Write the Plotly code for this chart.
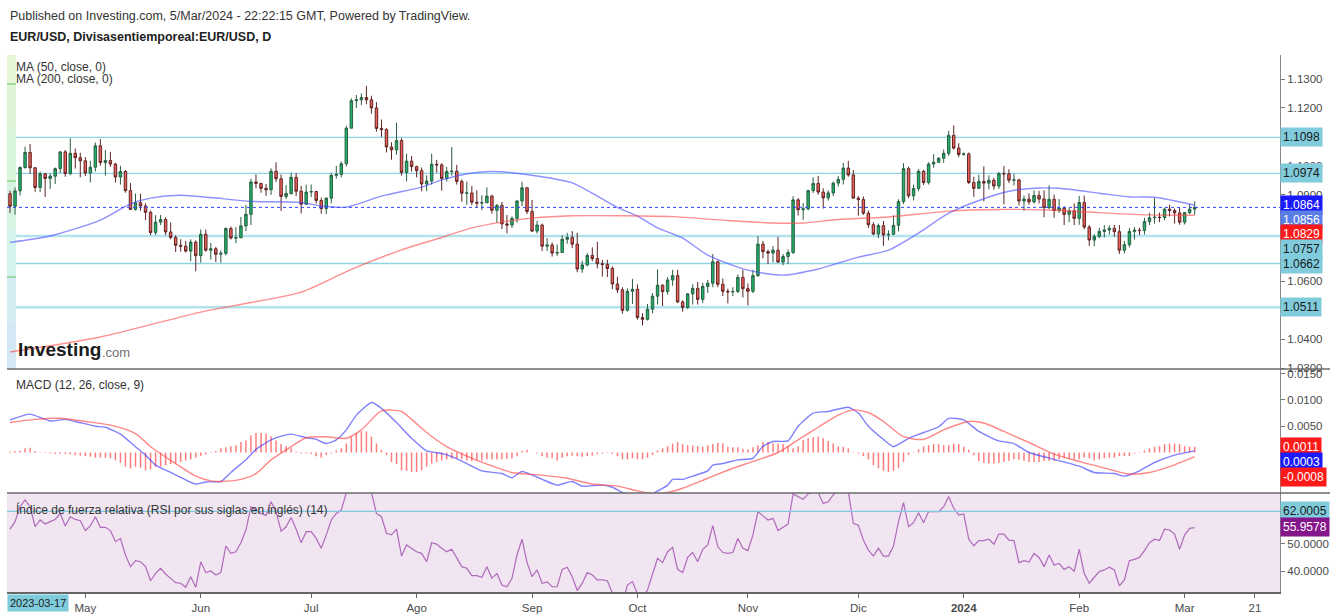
import pandas as pd
import plotly.graph_objects as go

# ---------------- data ----------------
dates = pd.bdate_range("2023-04-10", "2024-03-05")

opens = [
1.0903, 1.0860, 1.0913, 1.0994, 1.1046, 1.0993, 1.0925, 1.0972, 1.0956, 1.0964,
1.0990, 1.1048, 1.0973, 1.1043, 1.1028, 1.1017, 1.0975, 1.0995, 1.1069, 1.1011,
1.1018, 1.1006, 1.0961, 1.0980, 1.0914, 1.0849, 1.0872, 1.0861, 1.0839, 1.0769,
1.0805, 1.0814, 1.0771, 1.0752, 1.0725, 1.0722, 1.0705, 1.0736, 1.0689, 1.0763,
1.0708, 1.0713, 1.0694, 1.0697, 1.0783, 1.0750, 1.0751, 1.0792, 1.0832, 1.0944,
1.0939, 1.0922, 1.0917, 1.0981, 1.0955, 1.0894, 1.0904, 1.0960, 1.0912, 1.0867,
1.0909, 1.0911, 1.0880, 1.0852, 1.0888, 1.0967, 1.0970, 1.1007, 1.1130, 1.1225,
1.1228, 1.1236, 1.1228, 1.1200, 1.1129, 1.1125, 1.1065, 1.1055, 1.1087, 1.0977,
1.1016, 1.0997, 1.0983, 1.0937, 1.0947, 1.1005, 1.1003, 1.0956, 1.0980, 1.0981,
1.0946, 1.0905, 1.0906, 1.0874, 1.0871, 1.0872, 1.0895, 1.0846, 1.0863, 1.0799,
1.0795, 1.0818, 1.0878, 1.0924, 1.0842, 1.0774, 1.0795, 1.0722, 1.0726, 1.0698,
1.0700, 1.0746, 1.0752, 1.0729, 1.0643, 1.0657, 1.0690, 1.0679, 1.0661, 1.0659,
1.0645, 1.0591, 1.0571, 1.0500, 1.0566, 1.0573, 1.0475, 1.0469, 1.0504, 1.0549,
1.0587, 1.0565, 1.0605, 1.0620, 1.0529, 1.0510, 1.0557, 1.0576, 1.0538, 1.0583,
1.0594, 1.0668, 1.0590, 1.0566, 1.0564, 1.0565, 1.0614, 1.0575, 1.0566, 1.0620,
1.0729, 1.0703, 1.0698, 1.0708, 1.0667, 1.0686, 1.0700, 1.0882, 1.0848, 1.0851,
1.0914, 1.0939, 1.0909, 1.0889, 1.0906, 1.0940, 1.0953, 1.0992, 1.0968, 1.0888,
1.0883, 1.0836, 1.0796, 1.0764, 1.0793, 1.0761, 1.0763, 1.0794, 1.0876, 1.0990,
1.0896, 1.0921, 1.0981, 1.0942, 1.1006, 1.1012, 1.1026, 1.1043, 1.1105, 1.1061,
1.1039, 1.1041, 1.0942, 1.0922, 1.0946, 1.0940, 1.0950, 1.0930, 1.0973, 1.0972,
1.0950, 1.0951, 1.0878, 1.0885, 1.0875, 1.0897, 1.0885, 1.0855, 1.0884, 1.0845,
1.0854, 1.0832, 1.0844, 1.0818, 1.0873, 1.0788, 1.0743, 1.0755, 1.0773, 1.0778,
1.0784, 1.0772, 1.0708, 1.0727, 1.0773, 1.0777, 1.0776, 1.0807, 1.0820, 1.0822,
1.0821, 1.0850, 1.0845, 1.0837, 1.0805, 1.0838, 1.0850]

highs = [
1.0914, 1.0925, 1.0998, 1.1066, 1.1075, 1.0995, 1.0980, 1.0975, 1.0973, 1.0994,
1.1050, 1.1054, 1.1095, 1.1060, 1.1045, 1.1030, 1.1017, 1.1080, 1.1092, 1.1055,
1.1048, 1.1010, 1.1000, 1.0985, 1.0940, 1.0904, 1.0903, 1.0870, 1.0845, 1.0829,
1.0830, 1.0822, 1.0804, 1.0760, 1.0746, 1.0740, 1.0746, 1.0742, 1.0780, 1.0779,
1.0733, 1.0719, 1.0707, 1.0787, 1.0790, 1.0788, 1.0823, 1.0865, 1.0955, 1.0970,
1.0940, 1.0937, 1.0991, 1.1012, 1.0970, 1.0933, 1.0976, 1.0975, 1.0930, 1.0935,
1.0935, 1.0913, 1.0890, 1.0890, 1.0975, 1.1000, 1.1015, 1.1138, 1.1233, 1.1245,
1.1250, 1.1276, 1.1242, 1.1220, 1.1160, 1.1130, 1.1081, 1.1149, 1.1095, 1.1042,
1.1034, 1.1000, 1.0994, 1.0967, 1.1042, 1.1020, 1.1009, 1.0996, 1.1065, 1.1003,
1.0953, 1.0945, 1.0930, 1.0915, 1.0898, 1.0925, 1.0900, 1.0868, 1.0875, 1.0830,
1.0825, 1.0882, 1.0945, 1.0925, 1.0882, 1.0810, 1.0800, 1.0750, 1.0735, 1.0728,
1.0760, 1.0768, 1.0774, 1.0768, 1.0671, 1.0698, 1.0718, 1.0737, 1.0674, 1.0675,
1.0652, 1.0616, 1.0580, 1.0576, 1.0609, 1.0590, 1.0490, 1.0522, 1.0560, 1.0642,
1.0590, 1.0615, 1.0640, 1.0640, 1.0535, 1.0560, 1.0590, 1.0598, 1.0595, 1.0605,
1.0695, 1.0673, 1.0610, 1.0575, 1.0580, 1.0624, 1.0640, 1.0593, 1.0640, 1.0757,
1.0740, 1.0710, 1.0723, 1.0755, 1.0695, 1.0710, 1.0895, 1.0888, 1.0871, 1.0917,
1.0960, 1.0965, 1.0922, 1.0915, 1.0945, 1.0965, 1.1010, 1.1017, 1.0985, 1.0895,
1.0894, 1.0845, 1.0805, 1.0800, 1.0809, 1.0777, 1.0828, 1.0884, 1.1009, 1.0997,
1.0935, 1.0988, 1.0986, 1.1012, 1.1040, 1.1030, 1.1056, 1.1121, 1.1139, 1.1078,
1.1046, 1.1046, 1.0962, 1.0969, 1.0998, 1.0967, 1.0958, 1.0978, 1.0999, 1.0988,
1.0972, 1.0955, 1.0897, 1.0905, 1.0915, 1.0913, 1.0915, 1.0932, 1.0900, 1.0885,
1.0860, 1.0855, 1.0870, 1.0896, 1.0897, 1.0795, 1.0764, 1.0785, 1.0795, 1.0794,
1.0795, 1.0795, 1.0740, 1.0785, 1.0788, 1.0786, 1.0820, 1.0838, 1.0888, 1.0838,
1.0855, 1.0865, 1.0852, 1.0855, 1.0840, 1.0868, 1.0877]

lows = [
1.0837, 1.0831, 1.0897, 1.0990, 1.0972, 1.0910, 1.0909, 1.0892, 1.0920, 1.0937,
1.0975, 1.0962, 1.0967, 1.0990, 1.0960, 1.0965, 1.0942, 1.0980, 1.1000, 1.0966,
1.0996, 1.0942, 1.0935, 1.0907, 1.0847, 1.0845, 1.0844, 1.0812, 1.0760, 1.0760,
1.0795, 1.0760, 1.0746, 1.0702, 1.0703, 1.0700, 1.0670, 1.0635, 1.0665, 1.0703,
1.0675, 1.0667, 1.0665, 1.0690, 1.0745, 1.0732, 1.0750, 1.0774, 1.0795, 1.0922,
1.0907, 1.0896, 1.0899, 1.0943, 1.0844, 1.0885, 1.0900, 1.0895, 1.0835, 1.0864,
1.0892, 1.0869, 1.0834, 1.0833, 1.0870, 1.0956, 1.0960, 1.0998, 1.1130, 1.1200,
1.1210, 1.1213, 1.1180, 1.1118, 1.1100, 1.1046, 1.1021, 1.1038, 1.0966, 1.0946,
1.0980, 1.0960, 1.0912, 1.0912, 1.0935, 1.0976, 1.0914, 1.0945, 1.0966, 1.0935,
1.0876, 1.0865, 1.0864, 1.0855, 1.0846, 1.0871, 1.0834, 1.0803, 1.0781, 1.0766,
1.0785, 1.0803, 1.0860, 1.0833, 1.0771, 1.0765, 1.0705, 1.0705, 1.0686, 1.0688,
1.0700, 1.0730, 1.0715, 1.0632, 1.0630, 1.0652, 1.0670, 1.0645, 1.0617, 1.0615,
1.0573, 1.0560, 1.0488, 1.0496, 1.0522, 1.0468, 1.0448, 1.0465, 1.0490, 1.0520,
1.0515, 1.0555, 1.0585, 1.0525, 1.0495, 1.0505, 1.0520, 1.0520, 1.0525, 1.0560,
1.0580, 1.0580, 1.0550, 1.0524, 1.0550, 1.0560, 1.0545, 1.0517, 1.0560, 1.0616,
1.0680, 1.0660, 1.0666, 1.0664, 1.0656, 1.0660, 1.0695, 1.0828, 1.0813, 1.0846,
1.0906, 1.0900, 1.0852, 1.0880, 1.0895, 1.0928, 1.0935, 1.0962, 1.0888, 1.0827,
1.0830, 1.0785, 1.0760, 1.0750, 1.0723, 1.0742, 1.0760, 1.0773, 1.0868, 1.0888,
1.0880, 1.0912, 1.0933, 1.0935, 1.0993, 1.1010, 1.1010, 1.1034, 1.1056, 1.1030,
1.1035, 1.0937, 1.0892, 1.0920, 1.0877, 1.0918, 1.0917, 1.0920, 1.0867, 1.0940,
1.0932, 1.0863, 1.0844, 1.0865, 1.0870, 1.0870, 1.0822, 1.0850, 1.0820, 1.0837,
1.0795, 1.0805, 1.0795, 1.0796, 1.0780, 1.0723, 1.0722, 1.0750, 1.0752, 1.0762,
1.0755, 1.0695, 1.0697, 1.0718, 1.0745, 1.0760, 1.0762, 1.0795, 1.0800, 1.0805,
1.0812, 1.0825, 1.0800, 1.0796, 1.0797, 1.0832, 1.0830]

closes = [
1.0860, 1.0913, 1.0994, 1.1046, 1.0993, 1.0925, 1.0972, 1.0956, 1.0964, 1.0990,
1.1048, 1.0973, 1.1043, 1.1028, 1.1017, 1.0975, 1.0995, 1.1069, 1.1011, 1.1018,
1.1006, 1.0961, 1.0980, 1.0914, 1.0849, 1.0872, 1.0861, 1.0839, 1.0769, 1.0805,
1.0814, 1.0771, 1.0752, 1.0725, 1.0722, 1.0705, 1.0736, 1.0689, 1.0763, 1.0708,
1.0713, 1.0694, 1.0697, 1.0783, 1.0750, 1.0751, 1.0792, 1.0832, 1.0944, 1.0939,
1.0922, 1.0917, 1.0981, 1.0955, 1.0894, 1.0904, 1.0960, 1.0912, 1.0867, 1.0909,
1.0911, 1.0880, 1.0852, 1.0888, 1.0967, 1.0970, 1.1007, 1.1130, 1.1225, 1.1228,
1.1236, 1.1228, 1.1200, 1.1129, 1.1125, 1.1065, 1.1055, 1.1087, 1.0977, 1.1016,
1.0997, 1.0983, 1.0937, 1.0947, 1.1005, 1.1003, 1.0956, 1.0980, 1.0981, 1.0946,
1.0905, 1.0906, 1.0874, 1.0871, 1.0872, 1.0895, 1.0846, 1.0863, 1.0799, 1.0795,
1.0818, 1.0878, 1.0924, 1.0842, 1.0774, 1.0795, 1.0722, 1.0726, 1.0698, 1.0700,
1.0746, 1.0752, 1.0729, 1.0643, 1.0657, 1.0690, 1.0679, 1.0661, 1.0659, 1.0645,
1.0591, 1.0571, 1.0500, 1.0566, 1.0573, 1.0475, 1.0469, 1.0504, 1.0549, 1.0587,
1.0565, 1.0605, 1.0620, 1.0529, 1.0510, 1.0557, 1.0576, 1.0538, 1.0583, 1.0594,
1.0668, 1.0590, 1.0566, 1.0564, 1.0565, 1.0614, 1.0575, 1.0566, 1.0620, 1.0729,
1.0703, 1.0698, 1.0708, 1.0667, 1.0686, 1.0700, 1.0882, 1.0848, 1.0851, 1.0914,
1.0939, 1.0909, 1.0889, 1.0906, 1.0940, 1.0953, 1.0992, 1.0968, 1.0888, 1.0883,
1.0836, 1.0796, 1.0764, 1.0793, 1.0761, 1.0763, 1.0794, 1.0876, 1.0990, 1.0896,
1.0921, 1.0981, 1.0942, 1.1006, 1.1012, 1.1026, 1.1043, 1.1105, 1.1061, 1.1039,
1.1041, 1.0942, 1.0922, 1.0946, 1.0940, 1.0950, 1.0930, 1.0973, 1.0972, 1.0950,
1.0951, 1.0878, 1.0885, 1.0875, 1.0897, 1.0885, 1.0855, 1.0884, 1.0845, 1.0854,
1.0832, 1.0844, 1.0818, 1.0873, 1.0788, 1.0743, 1.0755, 1.0773, 1.0778, 1.0784,
1.0772, 1.0708, 1.0727, 1.0773, 1.0777, 1.0776, 1.0807, 1.0820, 1.0822, 1.0821,
1.0850, 1.0845, 1.0837, 1.0805, 1.0838, 1.0850, 1.0856]

# moving averages, read at sample bars
ma50_bar = [0, 8, 18, 24, 28, 34, 40, 48, 58, 62, 67, 74, 82, 86, 92, 96, 100, 106, 112, 117,
            121, 125, 129, 134, 139, 147, 154, 161, 169, 175, 181, 187, 195, 199, 205, 209, 217,
            223, 228, 236]
ma50_val = [1.0735, 1.0757, 1.0812, 1.0868, 1.0888, 1.0898, 1.0890, 1.0877, 1.0873, 1.0861,
            1.0857, 1.0895, 1.0926, 1.0951, 1.0975, 1.0980, 1.0976, 1.0962, 1.0941, 1.0895,
            1.0856, 1.0826, 1.0785, 1.0750, 1.0691, 1.0639, 1.0622, 1.0643, 1.0684, 1.0708,
            1.0767, 1.0836, 1.0892, 1.0912, 1.0923, 1.0922, 1.0905, 1.0892, 1.0891, 1.0864]
ma200_bar = [0, 18, 38, 48, 58, 68, 78, 86, 92, 98, 104, 112, 122, 132, 142, 152, 158, 165,
             175, 187, 197, 207, 217, 227, 236]
ma200_val = [1.0356, 1.0408, 1.0494, 1.0527, 1.0563, 1.0642, 1.0709, 1.0752, 1.0785, 1.0805,
             1.0819, 1.0827, 1.0827, 1.0824, 1.0812, 1.0802, 1.0802, 1.0814, 1.0823, 1.0843,
             1.0849, 1.0847, 1.0838, 1.0830, 1.0829]

# MACD (12, 26, close, 9)
macd_bar = [0, 4, 8, 11, 13, 17, 19, 22, 25, 27, 29, 32, 35, 37, 39, 42, 44, 47, 49, 52, 54, 56,
            59, 61, 63, 65, 67, 69, 72, 74, 77, 80, 83, 86, 88, 91, 94, 98, 100, 102, 106, 109,
            112, 114, 118, 120, 122, 124, 126, 128, 131, 132, 134, 136, 139, 140, 142, 145, 148,
            150, 152, 155, 157, 160, 163, 167, 169, 171, 174, 176, 179, 182, 185, 187, 190, 193,
            197, 200, 203, 208, 213, 216, 220, 222, 225, 228, 232, 236]
macd_val = [0.0062, 0.0073, 0.0060, 0.0063, 0.0059, 0.0050, 0.0048, 0.0035, 0.0011, -0.0005,
            -0.0024, -0.0038, -0.0052, -0.0060, -0.0056, -0.0055, -0.0038, -0.0014, 0.0006,
            0.0024, 0.0031, 0.0035, 0.0028, 0.0025, 0.0017, 0.0024, 0.0043, 0.0071, 0.0095,
            0.0084, 0.0057, 0.0027, 0.0003, -0.0002, -0.0008, -0.0021, -0.0035, -0.0040,
            -0.0048, -0.0036, -0.0051, -0.0062, -0.0055, -0.0064, -0.0062, -0.0066, -0.0076,
            -0.0082, -0.0086, -0.0078, -0.0062, -0.0051, -0.0051, -0.0045, -0.0035, -0.0024,
            -0.0021, -0.0014, -0.0011, 0.0012, 0.0021, 0.0022, 0.0050, 0.0075, 0.0078, 0.0086,
            0.0075, 0.0050, 0.0025, 0.0011, 0.0027, 0.0038, 0.0049, 0.0065, 0.0062, 0.0040,
            0.0022, 0.0017, 0.0000, -0.0013, -0.0026, -0.0038, -0.0040, -0.0045, -0.0035,
            -0.0019, -0.0005, 0.0003]
signal_bar = [0, 5, 10, 15, 20, 25, 28, 33, 37, 40, 42, 46, 49, 52, 56, 59, 63, 67, 70, 74, 78,
              80, 83, 87, 91, 95, 100, 106, 111, 116, 121, 125, 128, 131, 134, 139, 144, 148, 153,
              157, 161, 165, 168, 171, 174, 178, 182, 186, 191, 194, 198, 203, 208, 213, 219, 223,
              227, 231, 236]
signal_val = [0.0057, 0.0063, 0.0065, 0.0059, 0.0052, 0.0036, 0.0011, -0.0021, -0.0045, -0.0054,
              -0.0055, -0.0051, -0.0040, -0.0014, 0.0011, 0.0028, 0.0030, 0.0027, 0.0043, 0.0079,
              0.0078, 0.0063, 0.0038, 0.0011, -0.0007, -0.0022, -0.0038, -0.0043, -0.0049,
              -0.0060, -0.0064, -0.0073, -0.0078, -0.0076, -0.0068, -0.0049, -0.0030, -0.0017,
              0.0000, 0.0024, 0.0048, 0.0071, 0.0081, 0.0076, 0.0059, 0.0030, 0.0025, 0.0043,
              0.0059, 0.0056, 0.0040, 0.0019, -0.0003, -0.0017, -0.0032, -0.0041, -0.0038,
              -0.0027, -0.0008]
hist_val = [
0.0002, 0.0003, 0.0004, 0.0008, 0.0009, 0.0003, 0.0001, -0.0001, -0.0002, -0.0003,
-0.0003, -0.0003, -0.0004, -0.0005, -0.0006, -0.0007, -0.0008, -0.0010, -0.0010, -0.0010,
-0.0011, -0.0015, -0.0020, -0.0027, -0.0030, -0.0027, -0.0029, -0.0034, -0.0032, -0.0027,
-0.0027, -0.0024, -0.0022, -0.0020, -0.0018, -0.0015, -0.0013, -0.0010, -0.0006, -0.0004,
-0.0001, 0.0003, 0.0008, 0.0010, 0.0012, 0.0014, 0.0020, 0.0023, 0.0033, 0.0037,
0.0037, 0.0036, 0.0031, 0.0023, 0.0016, 0.0012, 0.0008, 0.0002, -0.0002, -0.0002,
-0.0003, -0.0007, -0.0010, -0.0005, -0.0002, 0.0004, 0.0008, 0.0017, 0.0030, 0.0037,
0.0040, 0.0040, 0.0030, 0.0017, 0.0005, -0.0005, -0.0018, -0.0022, -0.0034, -0.0035,
-0.0037, -0.0037, -0.0034, -0.0027, -0.0021, -0.0018, -0.0015, -0.0013, -0.0012, -0.0011,
-0.0013, -0.0015, -0.0016, -0.0015, -0.0015, -0.0013, -0.0013, -0.0013, -0.0013, -0.0012,
-0.0011, -0.0007, 0.0003, 0.0005, 0.0000, -0.0002, -0.0007, -0.0010, -0.0011, -0.0015,
-0.0010, -0.0007, -0.0006, -0.0007, -0.0008, -0.0007, -0.0006, -0.0003, -0.0002, -0.0001,
-0.0003, -0.0007, -0.0013, -0.0013, -0.0011, -0.0013, -0.0013, -0.0010, -0.0005, 0.0004,
0.0008, 0.0012, 0.0017, 0.0020, 0.0016, 0.0014, 0.0013, 0.0012, 0.0011, 0.0014,
0.0016, 0.0018, 0.0017, 0.0011, 0.0010, 0.0010, 0.0007, 0.0006, 0.0010, 0.0014,
0.0020, 0.0020, 0.0017, 0.0017, 0.0016, 0.0012, 0.0008, 0.0012, 0.0024, 0.0027,
0.0029, 0.0030, 0.0027, 0.0022, 0.0017, 0.0012, 0.0011, 0.0008, 0.0001, -0.0002,
-0.0007, -0.0013, -0.0024, -0.0030, -0.0035, -0.0037, -0.0035, -0.0030, -0.0018, -0.0005,
0.0001, 0.0006, 0.0012, 0.0014, 0.0016, 0.0016, 0.0014, 0.0014, 0.0017, 0.0016,
0.0011, 0.0005, -0.0005, -0.0016, -0.0020, -0.0021, -0.0021, -0.0020, -0.0018, -0.0016,
-0.0013, -0.0014, -0.0016, -0.0018, -0.0018, -0.0018, -0.0016, -0.0016, -0.0016, -0.0013,
-0.0011, -0.0012, -0.0013, -0.0013, -0.0010, -0.0011, -0.0015, -0.0013, -0.0011, -0.0010,
-0.0010, -0.0007, -0.0007, -0.0007, -0.0002, 0.0001, 0.0004, 0.0008, 0.0011, 0.0012,
0.0016, 0.0017, 0.0017, 0.0016, 0.0012, 0.0011, 0.0011]

# RSI (14)
rsi_val = [
55.4, 58.2, 63.7, 66.2, 63.7, 56.3, 58.8, 57.3, 58.2, 59.0,
61.2, 56.6, 60.0, 59.0, 58.5, 54.9, 56.6, 60.0, 56.1, 56.1,
54.9, 50.8, 52.0, 45.9, 41.6, 43.8, 43.4, 41.6, 36.4, 39.1,
41.0, 38.9, 37.3, 35.7, 35.5, 34.0, 37.9, 34.0, 43.4, 39.4,
40.0, 38.5, 39.4, 49.2, 46.5, 47.1, 50.4, 55.1, 63.7, 62.5,
61.2, 60.5, 65.5, 61.9, 54.7, 56.3, 59.7, 55.4, 50.4, 54.5,
54.5, 52.0, 48.4, 53.3, 58.8, 61.2, 62.5, 68.9, 75.0, 77.0,
77.0, 73.0, 69.0, 61.2, 60.0, 53.9, 53.3, 55.4, 45.5, 49.6,
48.4, 47.1, 46.5, 43.4, 50.4, 49.9, 48.4, 47.1, 48.0, 44.7,
41.6, 41.0, 38.3, 38.3, 37.7, 41.6, 37.3, 39.1, 34.8, 34.2,
37.3, 45.9, 51.7, 43.1, 37.9, 40.4, 35.5, 36.0, 34.2, 34.2,
40.6, 41.4, 37.9, 32.8, 35.5, 39.4, 38.5, 36.7, 36.7, 36.4,
31.8, 30.0, 28.0, 34.8, 36.1, 31.5, 30.0, 33.0, 39.1, 44.7,
43.1, 47.1, 48.7, 40.6, 39.4, 45.0, 46.8, 43.4, 48.0, 49.6,
56.7, 49.0, 46.8, 46.5, 46.8, 52.0, 48.4, 47.5, 53.3, 61.9,
60.3, 58.8, 59.4, 54.9, 56.1, 57.3, 68.4, 67.4, 66.4, 68.4,
69.2, 68.9, 64.9, 65.5, 68.0, 69.8, 71.7, 69.2, 57.6, 56.9,
51.4, 47.7, 45.5, 48.4, 45.5, 45.5, 49.2, 58.2, 65.2, 56.3,
57.8, 61.5, 57.8, 61.9, 61.9, 61.9, 63.7, 67.4, 63.1, 60.6,
61.0, 51.7, 49.3, 51.2, 51.2, 51.7, 49.9, 53.6, 53.6, 51.4,
51.2, 43.1, 43.8, 43.3, 46.5, 45.0, 41.6, 45.9, 42.2, 42.8,
40.6, 41.6, 39.8, 48.0, 39.1, 35.5, 37.7, 39.8, 40.4, 41.4,
40.4, 34.5, 36.7, 43.8, 44.3, 45.0, 47.5, 50.4, 51.7, 51.2,
55.4, 55.1, 53.6, 48.0, 53.3, 55.7, 55.96]

month_labels = ["May", "Jun", "Jul", "Ago", "Sep", "Oct", "Nov", "Dic", "<b>2024</b>", "Feb", "Mar"]
extra_tick_date = "2024-03-21"
extra_tick_label = "21"

levels = [1.1098, 1.0974, 1.0757, 1.0662, 1.0511]
last_price = 1.0856
ma50_last = 1.0864
ma200_last = 1.0829
macd_last, signal_last, hist_last = 0.0003, -0.0008, 0.0011
rsi_band = 62.0005
rsi_last = 55.9578

price_ticks = [1.03, 1.04, 1.06, 1.09, 1.10, 1.12, 1.13]
macd_ticks = [0.005, 0.010, 0.015]
rsi_ticks = [40, 50]

# ---------------- geometry ----------------
W, H = 1332, 614
L, R, T, B = 7, 52, 55, 22
PW, PH = W - L - R, H - T - B
FONT = "Liberation Sans, Arial, sans-serif"


def px(x):
    return (x - L) / PW


def py(y):
    return (H - B - y) / PH


n = len(closes)
bars = list(range(n))

ds = pd.Series(dates)
firsts = ds.groupby([ds.dt.year, ds.dt.month]).head(1).index.tolist()[1:]
extra_pos = (n - 1) + len(pd.bdate_range(dates[-1] + pd.Timedelta(days=1), extra_tick_date))
tick_pos = firsts + [extra_pos]
tick_txt = month_labels + [extra_tick_label]

fig = go.Figure()

fig.add_trace(go.Candlestick(
    x=bars, open=opens, high=highs, low=lows, close=closes,
    increasing=dict(line=dict(color="#2a5f40", width=1), fillcolor="#1fb06a"),
    decreasing=dict(line=dict(color="#5e2424", width=1), fillcolor="#ef6259"),
    whiskerwidth=0, xaxis="x", yaxis="y", hoverinfo="skip"))

fig.add_trace(go.Scatter(x=ma50_bar, y=ma50_val, mode="lines", xaxis="x", yaxis="y",
                         line=dict(color="rgba(70,70,255,0.6)", width=1.4, shape="spline", smoothing=0.7)))
fig.add_trace(go.Scatter(x=ma200_bar, y=ma200_val, mode="lines", xaxis="x", yaxis="y",
                         line=dict(color="rgba(255,70,70,0.6)", width=1.4, shape="spline", smoothing=0.7)))

fig.add_trace(go.Bar(x=bars, y=hist_val, width=0.3, xaxis="x", yaxis="y2",
                     marker=dict(color="rgba(255,70,70,0.7)", line=dict(width=0))))
fig.add_trace(go.Scatter(x=macd_bar, y=macd_val, mode="lines", xaxis="x", yaxis="y2",
                         line=dict(color="rgba(60,60,255,0.65)", width=1.4, shape="spline", smoothing=0.5)))
fig.add_trace(go.Scatter(x=signal_bar, y=signal_val, mode="lines", xaxis="x", yaxis="y2",
                         line=dict(color="rgba(255,70,70,0.65)", width=1.4, shape="spline", smoothing=0.7)))

fig.add_trace(go.Scatter(x=bars, y=rsi_val, mode="lines", xaxis="x", yaxis="y3",
                         line=dict(color="rgba(150,60,165,0.72)", width=1.2)))

main_range = [1.13 - (369 - 79) / 2892, 1.13 + (79 - 55) / 2892]
macd_range = [(452.5 - 493) / 5260, (452.5 - 369) / 5260]
rsi_range = [40 - (592 - 571) / 2.714, 40 + (571 - 493) / 2.714]

axis_font = dict(family=FONT, size=11.5, color="#4a4a4a")
yax_common = dict(side="right", anchor="x", showgrid=False, zeroline=False, ticks="outside",
                  ticklen=4, tickcolor="#777", showline=True, linecolor="#888", linewidth=1,
                  tickfont=axis_font, tickformat=".4f", fixedrange=True, automargin=False)

fig.update_layout(
    width=W, height=H, margin=dict(l=L, r=R, t=T, b=B, autoexpand=False),
    paper_bgcolor="white", plot_bgcolor="white", showlegend=False, hovermode=False,
    font=dict(family=FONT),
    xaxis=dict(domain=[0, 1], range=[-0.6, 253.0], anchor="y3", showgrid=False, zeroline=False,
               tickvals=tick_pos, ticktext=tick_txt, ticks="outside", ticklen=4, tickcolor="#666",
               showline=True, linecolor="#666", linewidth=1.5, tickfont=axis_font,
               automargin=False, rangeslider=dict(visible=False)),
    yaxis=dict(domain=[py(369), 1], range=main_range, tickvals=price_ticks, **yax_common),
    yaxis2=dict(domain=[py(493), py(369)], range=macd_range, tickvals=macd_ticks, **yax_common),
    yaxis3=dict(domain=[0, py(493)], range=rsi_range, tickvals=rsi_ticks, **yax_common),
)

shapes = []
# RSI panel background band and level line
shapes.append(dict(type="rect", xref="paper", yref="y3", x0=0, x1=1, y0=30, y1=70,
                   fillcolor="#f1e5f1", line=dict(width=0), layer="below"))
shapes.append(dict(type="line", xref="paper", yref="y3", x0=0, x1=1, y0=rsi_band, y1=rsi_band,
                   line=dict(color="#7fc8e0", width=1.2)))
# horizontal support/resistance levels
for lv in levels:
    thick = lv in (1.0757, 1.0511)
    shapes.append(dict(type="line", xref="paper", yref="y", x0=0, x1=1, y0=lv, y1=lv,
                       line=dict(color="#b2e2ec" if thick else "#8dd4e4", width=2.4 if thick else 1.3),
                       layer="below"))
# last price dotted line
shapes.append(dict(type="line", xref="paper", yref="y", x0=0, x1=1, y0=last_price, y1=last_price,
                   line=dict(color="#3048ff", width=1, dash="dot")))
# left colour strip
strip = [(55, 85, "#e5f5d7"), (85, 130, "#ddf5d6"), (130, 181, "#d9f5da"), (181, 230, "#d7f4e3"),
         (230, 277, "#d6f2ec"), (277, 322, "#d5ecf3"), (322, 369, "#d3e7f4")]
for y0, y1, c in strip:
    shapes.append(dict(type="rect", xref="paper", yref="paper", x0=px(7), x1=px(16),
                       y0=py(y1), y1=py(y0), fillcolor=c, line=dict(width=0), layer="below"))
for yy in (84, 181, 277):
    shapes.append(dict(type="line", xref="paper", yref="paper", x0=px(7), x1=px(16),
                       y0=py(yy), y1=py(yy), line=dict(color="#5fbf63", width=1)))
# panel separators
for yy in (369, 493):
    shapes.append(dict(type="line", xref="paper", yref="paper", x0=0, x1=px(1330),
                       y0=py(yy), y1=py(yy), line=dict(color="#6a6a6a", width=1.5)))
fig.update_layout(shapes=shapes)

ann = []


def text(x, y, s, size=12, color="#333", bold=False):
    ann.append(dict(x=px(x), y=py(y), xref="paper", yref="paper", xanchor="left", yanchor="middle",
                    text=f"<b>{s}</b>" if bold else s, showarrow=False,
                    font=dict(family=FONT, size=size, color=color)))


text(8, 16, "Published on Investing.com, 5/Mar/2024 - 22:22:15 GMT, Powered by TradingView.", 12.5, "#333")
text(8, 37, "EUR/USD, Divisasentiemporeal:EUR/USD, D", 12.5, "#222", bold=True)
text(14, 67, "MA (50, close, 0)", 12, "#333")
text(14, 79, "MA (200, close, 0)", 12, "#333")
text(14, 385, "MACD (12, 26, close, 9)", 12, "#333")
text(14, 509, "Índice de fuerza relativa (RSI por sus siglas en inglés) (14)", 12, "#333")
text(16, 349, "Investing", 19, "#1b1b1b", bold=True)
text(100, 352, ".com", 13, "#6f6f6f")

ann.append(dict(x=px(7), y=py(603), xref="paper", yref="paper", xanchor="left", yanchor="middle",
                text="2023-03-17", showarrow=False, bgcolor="#7ecbdb", borderpad=2,
                font=dict(family=FONT, size=11, color="#222")))


def tag(s, yv, yref, bg, fg):
    ann.append(dict(x=1, xref="paper", y=yv, yref=yref, xanchor="left", yanchor="middle",
                    text=s, showarrow=False, bgcolor=bg, borderpad=2,
                    font=dict(family=FONT, size=12, color=fg)))


CY = "#80cbdc"
tag(f"{levels[0]:.4f}", levels[0], "y", CY, "#1a1a1a")
tag(f"{levels[1]:.4f}", levels[1], "y", CY, "#1a1a1a")
tag(f"{ma50_last:.4f}", ma50_last, "y", "#1a1aff", "white")
tag(f"{last_price:.4f}", 1.0812, "y", "#5b7ee6", "white")
tag(f"{ma200_last:.4f}", 1.0763, "y", "#ff1a1a", "white")
tag(f"{levels[2]:.4f}", 1.0712, "y", CY, "#1a1a1a")
tag(f"{levels[3]:.4f}", 1.0659, "y", CY, "#1a1a1a")
tag(f"{levels[4]:.4f}", levels[4], "y", CY, "#1a1a1a")
tag(f"{hist_last:.4f}", (452.5 - 447) / 5260, "y2", "#ff1a1a", "white")
tag(f"{macd_last:.4f}", (452.5 - 462) / 5260, "y2", "#1a1aff", "white")
tag(f"{signal_last:.4f}", (452.5 - 477) / 5260, "y2", "#ff1a1a", "white")
tag(f"{rsi_band:.4f}", rsi_band, "y3", CY, "#1a1a1a")
tag(f"{rsi_last:.4f}", 56.2, "y3", "#84158a", "white")

fig.update_layout(annotations=ann)

fig.write_html("out.html", config={"displayModeBar": False},
               post_script="document.body.style.margin='0';document.body.style.overflow='hidden';")
